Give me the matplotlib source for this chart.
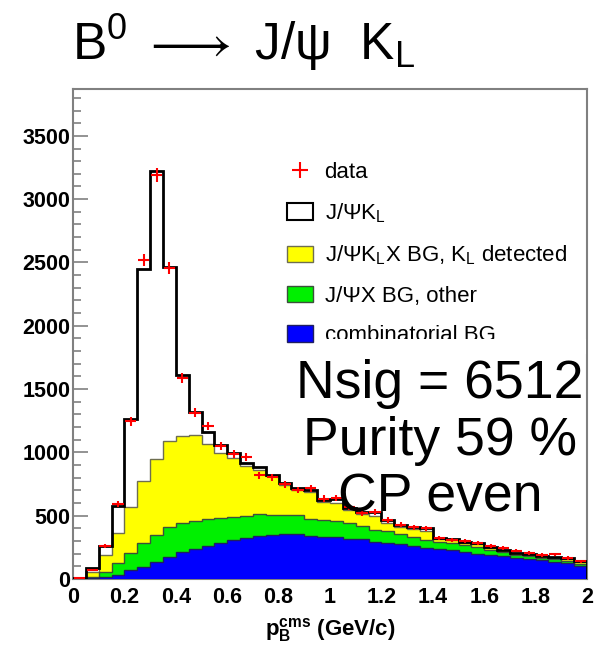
import matplotlib
matplotlib.use("Agg")
import matplotlib.pyplot as plt
from matplotlib.lines import Line2D
from matplotlib.patches import Patch, Rectangle
from matplotlib.ticker import MultipleLocator
import numpy as np

plt.rcParams['font.family'] = ['Liberation Sans', 'DejaVu Sans']
plt.rcParams['mathtext.fontset'] = 'custom'
plt.rcParams['mathtext.rm'] = 'Liberation Sans'
plt.rcParams['mathtext.it'] = 'Liberation Sans:italic'
plt.rcParams['mathtext.bf'] = 'Liberation Sans:bold'

# p_B^cms binning: 40 bins of 0.05 GeV/c
edges = np.linspace(0, 2, 41)

# stacked MC components (counts per bin)
comb_bg = [2, 5, 13, 35, 71, 97, 134, 170, 212, 240, 262, 285, 305, 325, 342, 350, 352, 353, 340, 335,
           332, 318, 316, 295, 282, 277, 260, 244, 237, 227, 211, 200, 192, 179, 166, 158, 148, 137, 127, 106]
jpsix_other = [2, 13, 45, 92, 135, 186, 216, 238, 231, 218, 208, 195, 182, 175, 170, 157, 155, 152, 130, 128,
               129, 125, 104, 95, 101, 79, 75, 64, 58, 60, 57, 56, 37, 33, 26, 22, 19, 20, 19, 15]
jpsiklx_bg = [1, 40, 134, 234, 365, 494, 600, 680, 687, 682, 600, 519, 468, 395, 350, 303, 233, 200, 215, 147,
              139, 102, 95, 110, 62, 54, 57, 72, 22, 20, 20, 18, 17, 14, 12, 11, 11, 10, 10, 10]
signal = [3, 27, 66, 216, 689, 1668, 2275, 1377, 485, 180, 94, 59, 43, 25, 20, 11, 21, 11, 18, 14,
          32, 13, 17, 32, 21, 17, 16, 20, 5, 6, 7, 7, 5, 4, 4, 4, 6, 8, 9, 10]

# data
data = [5, 71, 260, 592, 1245, 2520, 3190, 2455, 1588, 1313, 1209, 1053, 987, 966, 819, 803, 750, 703, 716, 635,
        638, 566, 524, 530, 466, 428, 410, 402, 325, 310, 300, 283, 262, 242, 225, 203, 190, 195, 165, 140]

xticks = [0, 0.2, 0.4, 0.6, 0.8, 1, 1.2, 1.4, 1.6, 1.8, 2]
yticks = [0, 500, 1000, 1500, 2000, 2500, 3000, 3500]

top_blue = np.array(comb_bg)
top_green = top_blue + np.array(jpsix_other)
top_yellow = top_green + np.array(jpsiklx_bg)
top_total = top_yellow + np.array(signal)

fig = plt.figure(figsize=(6.09, 6.48), dpi=100)
ax = fig.add_axes([73/609, 1-579/648, 514/609, 490/648])

ax.stairs(top_total, edges, fill=True, facecolor='white', edgecolor='none', zorder=1)
ax.stairs(top_yellow, edges, fill=True, facecolor='#ffff00', edgecolor='#6e6e50', lw=1, zorder=2)
ax.stairs(top_green, edges, fill=True, facecolor='#00f000', edgecolor='#3c503c', lw=1, zorder=3)
ax.stairs(top_blue, edges, fill=True, facecolor='#0000ff', edgecolor='#202060', lw=1, zorder=4)
ax.stairs(top_total, edges, color='black', lw=2, zorder=5)

centers = 0.5 * (edges[:-1] + edges[1:])
ax.errorbar(centers, data, xerr=0.022, yerr=np.sqrt(data), fmt='none',
            ecolor='red', elinewidth=1.5, capsize=0, zorder=6)

ax.set_xlim(0, 2)
ax.set_ylim(0, 3870)
ax.set_axisbelow(True)
ax.set_xticks(xticks, labels=[f"{v:g}" for v in xticks], fontweight='bold')
ax.set_yticks(yticks, labels=[str(v) for v in yticks], fontweight='bold')
ax.xaxis.set_minor_locator(MultipleLocator(0.05))
ax.yaxis.set_minor_locator(MultipleLocator(100))
ax.tick_params(which='both', direction='in', color='#808080', labelsize=15.5, width=1.2)
ax.tick_params(which='major', length=11)
ax.tick_params(which='minor', length=6)
ax.tick_params(axis='y', pad=2)
ax.tick_params(axis='x', pad=6)
for s in ax.spines.values():
    s.set_color('#808080')
    s.set_linewidth(1.5)

ax.set_xlabel(r"$\mathbf{p}_{\mathbf{B}}^{\mathbf{cms}}$ (GeV/c)", fontsize=16, fontweight='bold')
ax.xaxis.set_label_coords(0.5, -0.075)

handles = [
    Line2D([], [], color='red', marker='+', markersize=11, mew=1.5, linestyle='none'),
    Patch(facecolor='white', edgecolor='black', lw=1.5),
    Patch(facecolor='#ffff00', edgecolor='#6e6e50'),
    Patch(facecolor='#00f000', edgecolor='#3c503c'),
    Patch(facecolor='#0000ff', edgecolor='#202060'),
]
labels = ["data", r"J/ΨK$_{\mathrm{L}}$", r"J/ΨK$_{\mathrm{L}}$X BG, K$_{\mathrm{L}}$ detected",
          "J/ΨX BG, other", "combinatorial BG"]
ax.legend(handles, labels, loc='upper left', bbox_to_anchor=(0.416, 0.852), frameon=False,
          fontsize=16, handlelength=1.2, handleheight=0.75, handletextpad=0.5,
          labelspacing=0.84, borderpad=0, borderaxespad=0)

# white strip hiding the bottom of the legend, as on the slide
fig.add_artist(Rectangle((318/609, 1-354/648), 268/609, 15/648, transform=fig.transFigure,
                         facecolor='white', edgecolor='none', zorder=10))

fig.text(440/609, 1-398/648, "Nsig = 6512", ha='center', va='baseline', fontsize=38.5, zorder=11)
fig.text(440/609, 1-455/648, "Purity 59 %", ha='center', va='baseline', fontsize=38.5, zorder=11)
fig.text(440/609, 1-512/648, "CP even", ha='center', va='baseline', fontsize=38.5, zorder=11)

fig.text(72/609, 1-60/648, r"B$^{\mathrm{0}}\ \longrightarrow$ J/ψ  K$_{\mathrm{L}}$", fontsize=37, va='baseline')

fig.savefig("out.png", dpi=100)
